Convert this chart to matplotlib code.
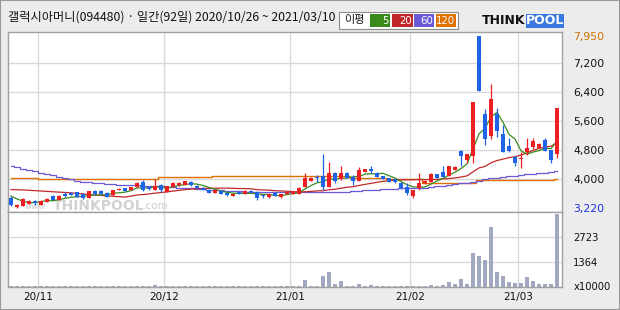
import matplotlib
matplotlib.use("Agg")
import matplotlib.pyplot as plt
import numpy as np
import pandas as pd
from matplotlib.patches import Rectangle

# ---------------- data ----------------
opens = [3500, 3240, 3270, 3330, 3400, 3300, 3390, 3540, 3430, 3590,
         3630, 3640, 3610, 3500, 3690, 3690, 3630, 3560, 3720, 3750,
         3720, 3800, 3940, 3800, 3720, 3840, 3660, 3800, 3840, 3850,
         3940, 3830, 3770, 3720, 3630, 3690, 3630, 3540, 3640, 3610,
         3690, 3660, 3570, 3510, 3630, 3510, 3600, 3600, 3600, 3800,
         3960, 4070, 4090, 3800, 4190, 4000, 4190, 4070, 3960, 4210,
         4280, 4190, 4090, 4030, 4000, 3910, 3780, 3540, 3770, 3890,
         3940, 4150, 4210, 4100, 4260, 4790, 4530, 4640, 7950, 5800,
         5200, 5800, 5250, 4920, 4630, 4560, 4750, 4900, 4870, 5090,
         4810, 4700]
highs = [3540, 3330, 3480, 3420, 3440, 3420, 3480, 3560, 3560, 3650,
         3650, 3660, 3620, 3690, 3710, 3700, 3640, 3710, 3760, 3760,
         3800, 3930, 3990, 3830, 4010, 3880, 3830, 3920, 3920, 3960,
         3950, 3840, 3780, 3730, 3710, 3700, 3640, 3600, 3650, 3700,
         3700, 3680, 3580, 3610, 3640, 3610, 3650, 3670, 3780, 4170,
         4060, 4120, 4700, 4490, 4200, 4370, 4200, 4120, 4330, 4300,
         4370, 4200, 4100, 4040, 4010, 3920, 3890, 3720, 4170, 3980,
         4170, 4160, 4370, 4380, 4360, 4820, 4710, 6150, 7950, 5940,
         6630, 5960, 5500, 5130, 4640, 4760, 5130, 5130, 5000, 5130,
         4820, 5970]
lows = [3280, 3220, 3260, 3310, 3300, 3290, 3380, 3420, 3420, 3520,
        3560, 3510, 3470, 3490, 3580, 3590, 3510, 3550, 3700, 3680,
        3710, 3790, 3680, 3720, 3710, 3660, 3650, 3790, 3830, 3840,
        3830, 3740, 3700, 3620, 3620, 3600, 3550, 3530, 3590, 3600,
        3630, 3420, 3500, 3500, 3530, 3500, 3590, 3590, 3590, 3790,
        3950, 3940, 3720, 3790, 3910, 3990, 4040, 3840, 3950, 4200,
        4170, 4060, 4000, 3930, 3900, 3740, 3570, 3500, 3720, 3880,
        3930, 4040, 4060, 4090, 4250, 4370, 4460, 4460, 6440, 4950,
        5110, 5160, 4750, 4760, 4370, 4320, 4670, 4830, 4860, 4780,
        4440, 4600]
closes = [3290, 3290, 3460, 3400, 3360, 3410, 3470, 3430, 3540, 3540,
          3570, 3520, 3480, 3680, 3600, 3600, 3520, 3700, 3740, 3690,
          3790, 3910, 3710, 3730, 3830, 3720, 3820, 3890, 3910, 3950,
          3850, 3750, 3710, 3630, 3700, 3610, 3570, 3590, 3600, 3690,
          3640, 3480, 3530, 3600, 3540, 3600, 3640, 3660, 3770, 4030,
          4050, 4030, 3800, 4190, 3960, 4190, 4050, 3960, 4260, 4280,
          4220, 4070, 4010, 3940, 3940, 3750, 3630, 3710, 3910, 3960,
          4150, 4050, 4070, 4370, 4350, 4650, 4700, 6140, 6450, 5110,
          6220, 5340, 4760, 4790, 4460, 4600, 4870, 5060, 4990, 4790,
          4530, 5960]
volumes = [70, 70, 70, 70, 70, 70, 70, 70, 70, 70,
           70, 70, 70, 70, 70, 70, 70, 70, 70, 70,
           70, 70, 70, 70, 150, 70, 70, 70, 70, 70,
           70, 70, 70, 70, 70, 70, 70, 70, 70, 70,
           70, 70, 70, 70, 70, 70, 70, 70, 70, 400,
           75, 75, 620, 840, 190, 350, 75, 75, 190, 75,
           130, 75, 75, 75, 75, 75, 75, 75, 75, 75,
           130, 75, 130, 290, 190, 460, 190, 1870, 1710, 1490,
           3290, 840, 620, 290, 240, 240, 570, 350, 190, 190,
           190, 3990]
# moving averages read where history before the window is needed
ma5_start = [3540, 3460, 3400, 3360]
ma20_start = [3720, 3715, 3710, 3700, 3690, 3680, 3670, 3660, 3650, 3640,
              3630, 3615, 3600, 3585, 3570, 3560, 3545, 3535, 3525]
ma60 = [4370, 4340, 4300, 4270, 4230, 4190, 4150, 4110, 4080, 4040,
        4000, 3960, 3940, 3920, 3900, 3890, 3880, 3870, 3860, 3855,
        3850, 3840, 3830, 3820, 3815, 3810, 3800, 3780, 3770, 3760,
        3750, 3740, 3730, 3720, 3710, 3700, 3690, 3680, 3670, 3665,
        3660, 3650, 3645, 3640, 3640, 3640, 3640, 3642, 3644, 3645,
        3645, 3648, 3650, 3652, 3655, 3658, 3662, 3668, 3680, 3695,
        3708, 3720, 3730, 3738, 3745, 3750, 3752, 3756, 3765, 3775,
        3790, 3810, 3830, 3850, 3870, 3890, 3900, 3920, 3960, 4000,
        4030, 4050, 4070, 4090, 4100, 4130, 4145, 4160, 4170, 4190,
        4205, 4220]
ma120 = [4050, 4050, 4050, 4050, 4050, 4020, 4020, 4020, 4020, 4020,
         4020, 4020, 4020, 4020, 4020, 4020, 4020, 4020, 4020, 4020,
         4020, 4020, 4020, 4020, 4020, 4065, 4065, 4065, 4065, 4065,
         4065, 4065, 4065, 4065, 4095, 4095, 4095, 4095, 4095, 4095,
         4095, 4095, 4095, 4095, 4095, 4095, 4095, 4095, 4095, 4095,
         4095, 4095, 4095, 4095, 4095, 4095, 4095, 4030, 4030, 4030,
         4030, 4030, 4030, 4000, 4000, 4000, 4000, 4000, 4000, 3905,
         3905, 3905, 3905, 3905, 3905, 3905, 3905, 3905, 3975, 3975,
         3975, 3975, 3975, 3975, 3975, 3975, 3975, 3975, 3975, 3975,
         3975, 4000]
month_labels = ['20/11', '20/12', '21/01', '21/02', '21/03']
month_start_idx = [5, 26, 47, 67, 85]
price_grid = [4000, 4800, 5600, 6400, 7200]
price_min, price_max = 3220, 7950
vol_ticks = [1364, 2723]
title = "갤럭시아머니(094480) · 일간(92일) 2020/10/26 ~ 2021/03/10"

# ---------------- derived ----------------
n = len(closes)
x = np.arange(n)
cs = pd.Series(closes, dtype=float)
ma5 = cs.rolling(5).mean().to_numpy()
ma5[:4] = ma5_start
ma20 = cs.rolling(20).mean().to_numpy()
ma20[:19] = ma20_start

RED = '#ee1f23'
BLUE = '#1f63e6'
C5, C20, C60, C120 = '#3a8a1c', '#c0282c', '#6a5ad8', '#e07000'
GRID = '#d9d9d9'
SPINE = '#a0a0a0'
BG = '#ececec'

W, H = 620, 310
fig = plt.figure(figsize=(6.2, 3.1), dpi=100, facecolor=BG)
fx = lambda px: px / W
fy = lambda py: 1 - py / H

ax = fig.add_axes([fx(8), fy(212), fx(562) - fx(8), fy(32) - fy(212)])
axv = fig.add_axes([fx(8), fy(287.4), fx(562) - fx(8), fy(212) - fy(287.4)], sharex=ax)

xlim = (-0.5, 91.83)
ax.set_xlim(*xlim)
pad = (price_max - price_min) * 4.3 / 171.4
ax.set_ylim(price_min - pad, price_max + pad)

# grids
for g in price_grid:
    ax.axhline(g, color=GRID, lw=1.0, zorder=0)
for m in month_start_idx:
    ax.axvline(m - 0.5, color=GRID, lw=1.0, zorder=0)
    axv.axvline(m - 0.5, color=GRID, lw=1.0, zorder=0)
for v in vol_ticks:
    axv.axhline(v, color=GRID, lw=1.0, zorder=0)

# watermark (behind the transparent price axes)
fig.text(fx(25), fy(209), 'www.', fontsize=6.3, color='#cdcdcd',
         ha='left', va='baseline', zorder=0.5)
fig.text(fx(53), fy(209.5), 'THINKPOOL', fontsize=10, color='#d2d2d2', fontweight='bold',
         ha='left', va='baseline', zorder=0.5)
fig.text(fx(143), fy(209), '.com', fontsize=7.5, color='#cdcdcd',
         ha='left', va='baseline', zorder=0.5)
ax.set_zorder(1)
axv.set_zorder(1)
ax.patch.set_alpha(0.0)
fig.patches.append(Rectangle((fx(8), fy(212)), fx(562) - fx(8), fy(32) - fy(212),
                             transform=fig.transFigure, facecolor='white',
                             edgecolor='none', zorder=0.1))

# moving averages
ax.plot(x, ma120, color=C120, lw=1.0, zorder=2, drawstyle='steps-mid')
ax.plot(x, ma60, color=C60, lw=0.9, zorder=2, drawstyle='steps-mid')
ax.plot(x, ma20, color=C20, lw=0.9, zorder=2)
ax.plot(x, ma5, color=C5, lw=0.9, zorder=2)

# candles
o = np.array(opens, float); c = np.array(closes, float)
h = np.array(highs, float); l = np.array(lows, float)
up = c >= o
cols = np.where(up, RED, BLUE)
ax.vlines(x, l, h, colors=cols, lw=0.9, zorder=3)
bottom = np.minimum(o, c)
height = np.maximum(np.abs(c - o), 22)
ax.bar(x, height, bottom=bottom, width=0.72, color=cols, edgecolor='none', zorder=4)

# volume
axv.bar(x, volumes, width=0.8, color='#a1a9c1', edgecolor='none', zorder=2)
axv.set_ylim(0, 4085)

# axes styling
for a in (ax, axv):
    for s in a.spines.values():
        s.set_color(SPINE)
        s.set_linewidth(1.0)
    a.tick_params(length=0)
axv.set_facecolor('white')

ax.set_yticks([price_min] + price_grid + [price_max])
ax.set_yticklabels([f'{v:,}' for v in [price_min] + price_grid + [price_max]])
ax.yaxis.tick_right()
ax.tick_params(axis='y', pad=8, labelsize=7.8, labelcolor='#111111')
labs = ax.get_yticklabels()
labs[0].set_color('#1a2ee0')
labs[-1].set_color('#d07000')
ax.tick_params(axis='x', labelbottom=False)

axv.yaxis.tick_right()
axv.set_yticks(vol_ticks)
axv.set_yticklabels([str(v) for v in vol_ticks])
axv.tick_params(axis='y', pad=8, labelsize=7.2, labelcolor='#111111')
axv.set_xticks([m - 0.5 for m in month_start_idx])
axv.set_xticklabels(month_labels)
axv.tick_params(axis='x', pad=3, labelsize=7.5, labelcolor='#111111')
fig.text(fx(574), fy(287), 'x10000', fontsize=7.2, color='#111111', va='center', ha='left')

# title
fig.text(fx(8), fy(17), title, fontsize=8.8, color='#111111', va='center', ha='left',
         family=['Noto Sans CJK KR', 'DejaVu Sans'])

# MA legend box
fig.patches.append(Rectangle((fx(339), fy(29)), fx(458) - fx(339), fy(12) - fy(29),
                             transform=fig.transFigure, facecolor='white',
                             edgecolor='#8c8c8c', lw=0.8))
fig.text(fx(344), fy(20.5), '이평', fontsize=8, color='#111111', va='center', ha='left',
         family=['Noto Sans CJK KR', 'DejaVu Sans'])
boxes = [(370, 390, C5, '5'), (392, 413, C20, '20'), (414, 434, C60, '60'), (436, 456, C120, '120')]
for x0, x1, colr, lab in boxes:
    fig.patches.append(Rectangle((fx(x0), fy(27)), fx(x1) - fx(x0), fy(14) - fy(27),
                                 transform=fig.transFigure, facecolor=colr, edgecolor='none'))
    fig.text(fx(x1 - 1), fy(20.5), lab, fontsize=7.3, color='white', va='center', ha='right')

# logo
fig.text(fx(482), fy(21), 'THINK', fontsize=9, color='#111111', fontweight='bold',
         va='center', ha='left')
fig.patches.append(Rectangle((fx(526), fy(28)), fx(564) - fx(526), fy(14) - fy(28),
                             transform=fig.transFigure, facecolor='#3a78e0', edgecolor='none'))
fig.text(fx(545), fy(21), 'POOL', fontsize=9, color='white', fontweight='bold',
         va='center', ha='center')

# outer frame
fig.patches.append(Rectangle((0, 0), 1, 1, transform=fig.transFigure, fill=False,
                             edgecolor='#9a9a9a', lw=1.5))

fig.savefig('out.png', dpi=100, facecolor=BG)
